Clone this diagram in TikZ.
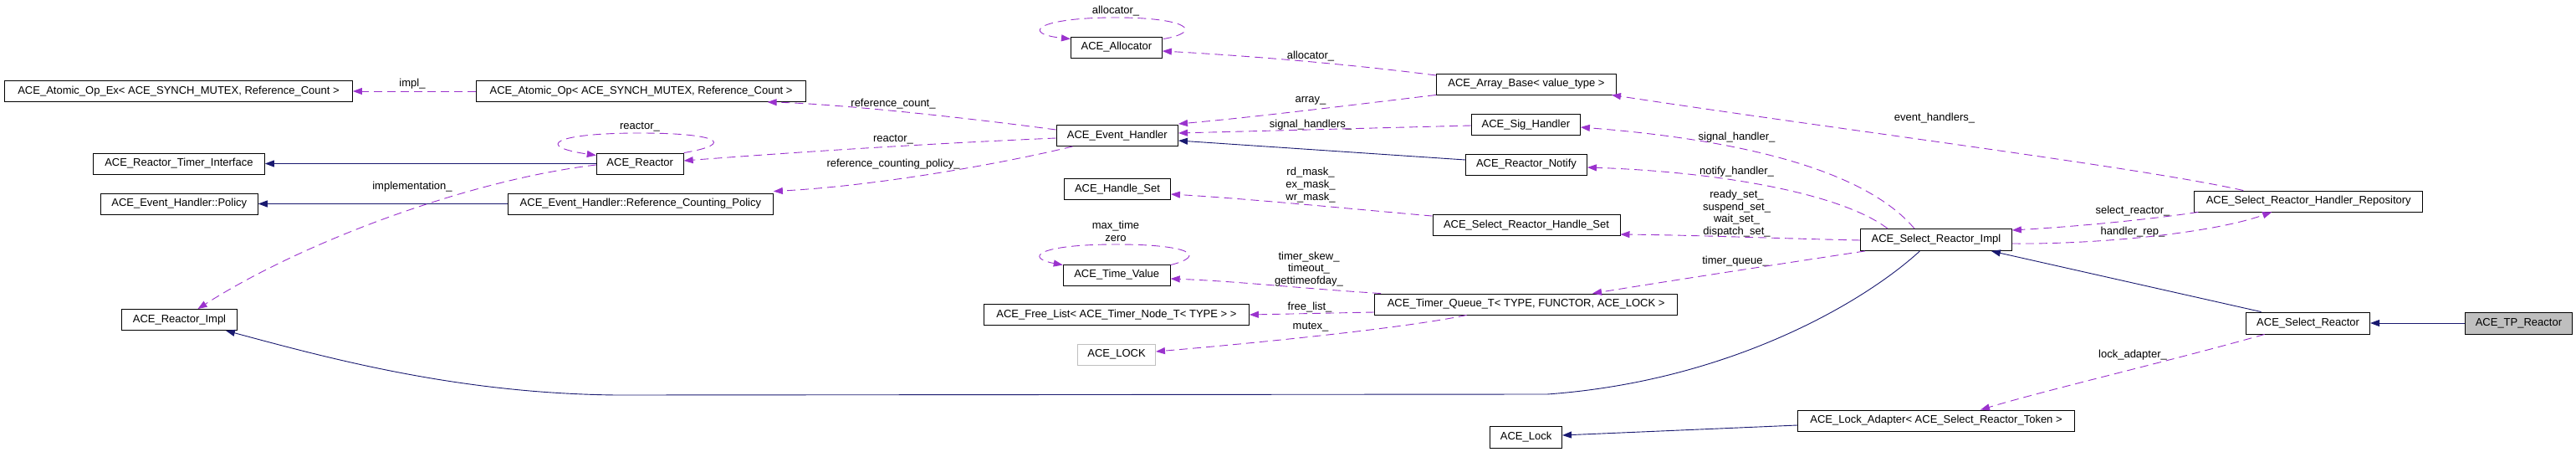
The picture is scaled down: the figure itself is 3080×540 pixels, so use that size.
\documentclass[tikz,border=0pt]{standalone}
\usepackage{fontspec}
\setmainfont{Liberation Sans}
\usetikzlibrary{arrows.meta,calc}
\definecolor{inh}{HTML}{191970}
\definecolor{usec}{HTML}{9A32CD}
\definecolor{grayb}{HTML}{BFBFBF}
\begin{document}
\begin{tikzpicture}[x=1pt,y=-1pt,
  box/.style={draw=black,line width=0.9pt,rectangle,inner sep=0pt,minimum height=25pt,font=\fontsize{13}{15}\selectfont},
  lbl/.style={inner sep=0pt,align=center,font=\fontsize{13}{14.6}\selectfont},
  inherit/.style={draw=inh,line width=0.9pt,-{Triangle[length=11pt,width=8pt]}},
  usage/.style={draw=usec,line width=0.9pt,dash pattern=on 10pt off 6pt,-{Triangle[length=11pt,width=8pt]}}]
\useasboundingbox (0,0) rectangle (3080,540);
% nodes
\node[box,minimum width=416pt] (aopex) at (213.5,109) {ACE\_Atomic\_Op\_Ex< ACE\_SYNCH\_MUTEX, Reference\_Count >};
\node[box,minimum width=394pt] (aop) at (766.6,109) {ACE\_Atomic\_Op< ACE\_SYNCH\_MUTEX, Reference\_Count >};
\node[box,minimum width=205pt] (rti) at (213.9,195.5) {ACE\_Reactor\_Timer\_Interface};
\node[box,minimum width=188pt] (policy) at (214.3,243.5) {ACE\_Event\_Handler::Policy};
\node[box,minimum width=138pt] (rimpl) at (214.5,382) {ACE\_Reactor\_Impl};
\node[box,minimum width=104pt] (reactor) at (765.2,195.5) {ACE\_Reactor};
\node[box,minimum width=317pt] (rcp) at (765.9,243.5) {ACE\_Event\_Handler::Reference\_Counting\_Policy};
\node[box,minimum width=109pt] (alloc) at (1334.9,56.5) {ACE\_Allocator};
\node[box,minimum width=145.5pt] (eh) at (1335.8,162) {ACE\_Event\_Handler};
\node[box,minimum width=127pt] (hset) at (1336,226) {ACE\_Handle\_Set};
\node[box,minimum width=128pt] (tv) at (1335.2,328.5) {ACE\_Time\_Value};
\node[box,minimum width=317pt] (flist) at (1334.9,376) {ACE\_Free\_List< ACE\_Timer\_Node\_T< TYPE > >};
\node[box,draw=grayb,minimum width=93pt] (lockT) at (1335,423.5) {ACE\_LOCK};
\node[box,minimum width=215pt] (abase) at (1825,100.5) {ACE\_Array\_Base< value\_type >};
\node[box,minimum width=130pt] (sig) at (1824.4,149) {ACE\_Sig\_Handler};
\node[box,minimum width=145pt] (notify) at (1825,196.5) {ACE\_Reactor\_Notify};
\node[box,minimum width=224pt] (srhs) at (1825,269) {ACE\_Select\_Reactor\_Handle\_Set};
\node[box,minimum width=362pt] (tq) at (1824.6,363.5) {ACE\_Timer\_Queue\_T< TYPE, FUNCTOR, ACE\_LOCK >};
\node[box,minimum width=86pt,minimum height=26pt] (acelock) at (1824.6,522.5) {ACE\_Lock};
\node[box,minimum width=181pt,minimum height=26pt] (sri) at (2314.9,286.5) {ACE\_Select\_Reactor\_Impl};
\node[box,minimum width=331pt] (lockad) at (2315,502.5) {ACE\_Lock\_Adapter< ACE\_Select\_Reactor\_Token >};
\node[box,minimum width=273pt] (srhr) at (2760.2,240.5) {ACE\_Select\_Reactor\_Handler\_Repository};
\node[box,minimum width=148pt,minimum height=26pt] (sr) at (2759.6,386) {ACE\_Select\_Reactor};
\node[box,fill=grayb,minimum width=128pt,minimum height=26pt] (tp) at (3011.4,386) {ACE\_TP\_Reactor};
% labels
\node[lbl] (l1) at (493,100) {impl\_};
\node[lbl] (l2) at (493,223) {implementation\_};
\node[lbl] (l3) at (765,152) {reactor\_};
\node[lbl] (l4) at (1068,124) {reference\_count\_};
\node[lbl] (l5) at (1068,167) {reactor\_};
\node[lbl] (l6) at (1068,196) {reference\_counting\_policy\_};
\node[lbl] (l7) at (1334,13) {allocator\_};
\node[lbl] (l8) at (1567,67) {allocator\_};
\node[lbl] (l9) at (1567,120) {array\_};
\node[lbl] (l10) at (1567,149) {signal\_handlers\_};
\node[lbl] (l11) at (1567,221) {rd\_mask\_\\ex\_mask\_\\wr\_mask\_};
\node[lbl,font=\fontsize{13}{15}\selectfont] (l12) at (1334,276.5) {max\_time\\zero};
\node[lbl] (l13) at (1565,321.5) {timer\_skew\_\\timeout\_\\gettimeofday\_};
\node[lbl] (l14) at (1566,367) {free\_list\_};
\node[lbl] (l15) at (1567,391) {mutex\_};
\node[lbl] (l16) at (2313,141) {event\_handlers\_};
\node[lbl] (l17) at (2076.5,164) {signal\_handler\_};
\node[lbl] (l18) at (2076.5,205) {notify\_handler\_};
\node[lbl] (l19) at (2076.5,255) {ready\_set\_\\suspend\_set\_\\wait\_set\_\\dispatch\_set\_};
\node[lbl] (l20) at (2075,312) {timer\_queue\_};
\node[lbl] (l21) at (2550,252) {select\_reactor\_};
\node[lbl] (l22) at (2550,277) {handler\_rep\_};
\node[lbl] (l23) at (2550,424) {lock\_adapter\_};
% inheritance
\draw[inherit] (reactor.west) -- (rti.east);
\draw[inherit] (rcp.west) -- (policy.east);
\draw[inherit] ($(notify.west)+(0,-5.5)$) -- ($(eh.east)+(0,6)$);
\draw[inherit] ($(sri.south)+(-19.5,0)$) .. controls (2230,360) and (2070,455) .. (1850,471) -- (737,472) .. controls (550,470) and (400,430) .. ($(rimpl.south east)+(-14,0)$);
\draw[inherit] ($(sr.north)+(-56,0)$) -- ($(sri.south east)+(-25,0)$);
\draw[inherit] ($(lockad.west)+(0,5.5)$) -- ($(acelock.east)+(0,-2.5)$);
\draw[inherit] (tp.west) -- (sr.east);
% usage
\draw[usage] (aop.west) -- (aopex.east);
\draw[usage] ($(reactor.west)+(0,1.5)$) .. controls (560,215) and (360,290) .. ($(rimpl.north)+(22,0)$);
\draw[usage] (reactor.north east) .. controls (880,172) and (860,159) .. (765,159) .. controls (660,159) and (640,175) .. ($(reactor.north west)+(0,3)$);
\draw[usage] ($(eh.west)+(0,-7)$) .. controls (1150,140) and (1000,124) .. ($(aop.south)+(151,0)$);
\draw[usage] ($(eh.west)+(0,3)$) .. controls (1100,172) and (950,182) .. ($(reactor.east)+(0,-3.5)$);
\draw[usage] ($(eh.south west)+(20,0)$) .. controls (1200,195) and (1050,222) .. ($(rcp.north east)+(0,-2)$);
\draw[usage] ($(alloc.north east)+(1,3)$) .. controls (1440,38) and (1420,21) .. (1334,21) .. controls (1240,21) and (1220,40) .. ($(alloc.north west)+(0,3)$);
\draw[usage] ($(abase.west)+(0,-10.5)$) .. controls (1600,75) and (1480,66) .. ($(alloc.east)+(0,4.5)$);
\draw[usage] (abase.south west) .. controls (1620,125) and (1500,140) .. ($(eh.east)+(0,-14)$);
\draw[usage] ($(sig.west)+(0,1)$) -- ($(eh.east)+(0,-3)$);
\draw[usage] ($(srhs.north west)+(0,2)$) .. controls (1620,250) and (1500,238) .. ($(hset.east)+(0,6)$);
\draw[usage] ($(tv.north east)+(0,1)$) .. controls (1445,305) and (1420,292) .. (1335,292) .. controls (1240,292) and (1225,308) .. ($(tv.north west)+(0,1)$);
\draw[usage] ($(tq.north west)+(8,0)$) .. controls (1560,345) and (1480,336) .. ($(tv.east)+(0,4.5)$);
\draw[usage] ($(tq.west)+(0,9.5)$) -- (flist.east);
\draw[usage] ($(tq.south)+(-71,0)$) .. controls (1680,392) and (1500,410) .. ($(lockT.east)+(0,-3.5)$);
\draw[usage] ($(sri.north)+(-26,0)$) .. controls (2240,215) and (2120,170) .. ($(sig.east)+(0,3)$);
\draw[usage] ($(sri.north)+(-58,0)$) .. controls (2200,230) and (2050,205) .. ($(notify.east)+(0,3.5)$);
\draw[usage] ($(sri.west)+(0,0.5)$) .. controls (2130,285) and (2030,281) .. ($(srhs.east)+(0,11)$);
\draw[usage] ($(sri.south west)+(6,0)$) .. controls (2130,315) and (2000,335) .. ($(tq.north east)+(-102,0)$);
\draw[usage] ($(srhr.south west)+(5,0)$) .. controls (2550,265) and (2460,272) .. ($(sri.east)+(0,-11.5)$);
\draw[usage] ($(sri.east)+(0,4.5)$) .. controls (2500,292) and (2640,280) .. ($(srhr.south)+(-44,0)$);
\draw[usage] ($(srhr.north west)+(59,0)$) .. controls (2560,200) and (2200,155) .. ($(abase.south east)+(-6,0)$);
\draw[usage] ($(sr.south)+(-52,0)$) .. controls (2600,430) and (2450,465) .. ($(lockad.north)+(53,0)$);
\end{tikzpicture}
\end{document}
